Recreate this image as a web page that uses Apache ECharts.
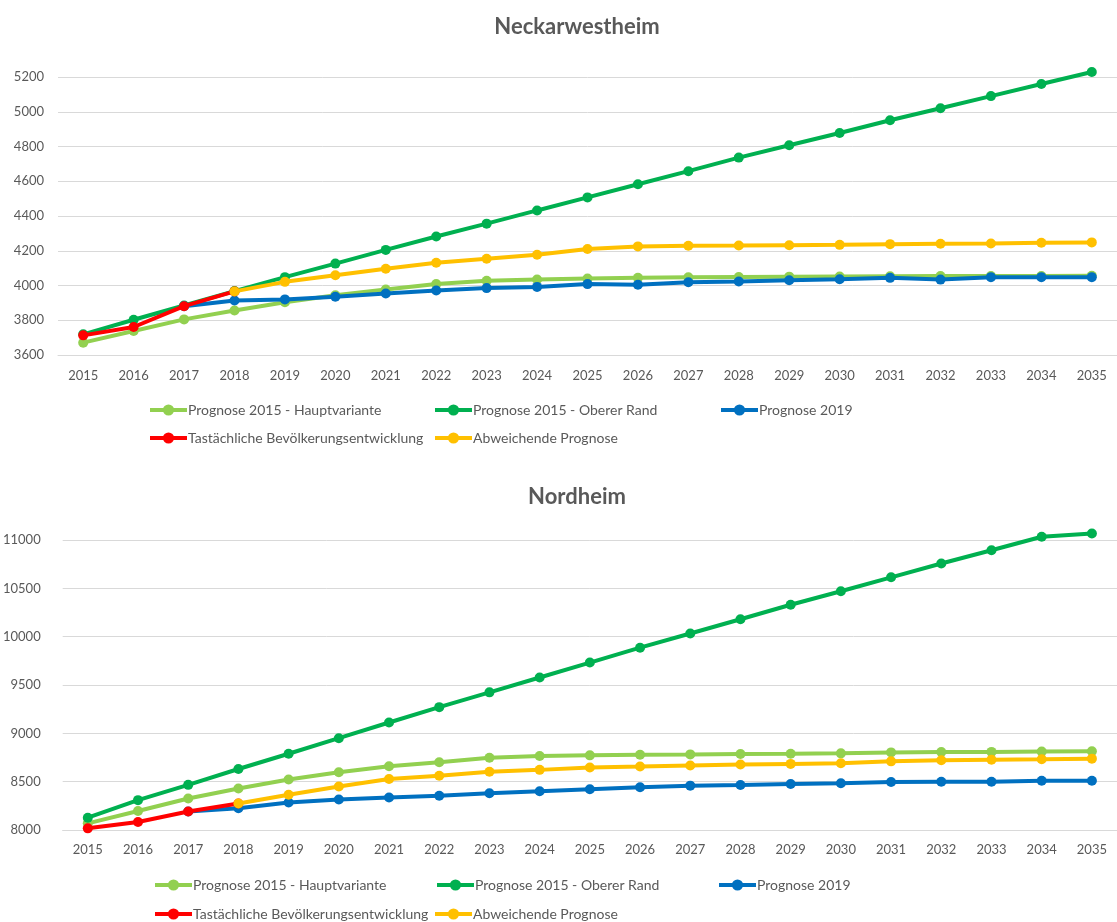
<!DOCTYPE html>
<html>
<head>
<meta charset="utf-8">
<script src="https://cdn.jsdelivr.net/npm/echarts@6/dist/echarts.min.js"></script>
<style>
html,body{margin:0;padding:0;background:#fff;}
#chart{width:1117px;height:922px;}
</style>
</head>
<body>
<div id="chart"></div>
<script>
var years = ['2015','2016','2017','2018','2019','2020','2021','2022','2023','2024','2025','2026','2027','2028','2029','2030','2031','2032','2033','2034','2035'];
var seriesNames = ['Prognose 2015 - Hauptvariante','Prognose 2015 - Oberer Rand','Prognose 2019','Tastächliche Bevölkerungsentwicklung','Abweichende Prognose'];
var seriesColors = ['#92D050','#00B050','#0070C0','#FF0000','#FFC000'];

// Neckarwestheim
var nwHaupt  = [3671,3738,3805,3856,3904,3944,3977,4008,4027,4035,4040,4044,4047,4049,4051,4052,4053,4054,4055,4055,4056];
var nwOberer = [3719,3803,3885,3968,4048,4126,4205,4282,4356,4432,4507,4583,4658,4736,4807,4878,4951,5020,5090,5160,5229];
var nw2019   = [null,null,3881,3914,3920,3935,3954,3971,3985,3992,4008,4004,4019,4023,4030,4036,4044,4034,4048,4048,4048];
var nwReal   = [3713,3761,3881,3966,null,null,null,null,null,null,null,null,null,null,null,null,null,null,null,null,null];
var nwAbw    = [null,null,null,3966,4021,4059,4096,4131,4154,4177,4210,4225,4229,4230,4232,4234,4238,4240,4242,4246,4248];

// Nordheim
var ndHaupt  = [8069,8196,8326,8429,8522,8597,8659,8701,8748,8765,8772,8779,8782,8786,8789,8793,8803,8806,8808,8811,8814];
var ndOberer = [8127,8309,8467,8631,8789,8950,9112,9271,9424,9578,9732,9886,10033,10180,10330,10470,10614,10757,10894,11034,11068];
var nd2019   = [null,null,8192,8226,8285,8316,8336,8354,8381,8401,8422,8442,8459,8466,8476,8483,8497,8500,8500,8510,8510];
var ndReal   = [8017,8082,8192,8275,null,null,null,null,null,null,null,null,null,null,null,null,null,null,null,null,null];
var ndAbw    = [null,null,null,8275,8364,8450,8528,8561,8602,8622,8646,8656,8667,8677,8684,8690,8710,8722,8727,8732,8738];

var titles = ['Neckarwestheim','Nordheim'];
var nwTicks = {min:3600, max:5200, interval:200};
var ndTicks = {min:8000, max:11000, interval:500};

var FONT = 'Lato';
var GREY = '#595959';

function mkSeries(idx, arrs){
  return arrs.map(function(d,i){
    return {
      name: seriesNames[i], type:'line', xAxisIndex: idx, yAxisIndex: idx,
      data: d, symbol:'circle', symbolSize:10, showSymbol:true,
      clip:false, connectNulls:false,
      color: seriesColors[i],
      itemStyle:{color: seriesColors[i]},
      lineStyle:{width:4, color: seriesColors[i]},
      z: 2 + i
    };
  });
}

function mkLegends(rowY1, rowY2, xs1, xs2){
  var pos = [[xs1[0],rowY1],[xs1[1],rowY1],[xs1[2],rowY1],[xs2[0],rowY2],[xs2[1],rowY2]];
  return pos.map(function(p,i){
    return {
      data:[seriesNames[i]], left:p[0], top:p[1]-7, padding:0,
      itemWidth:37, itemHeight:14, selectedMode:false,
      lineStyle:{width:4},
      textStyle:{fontFamily:FONT, fontSize:14, color:GREY, padding:[0,0,0,-4]}
    };
  });
}

function yAx(idx, t, margin){
  return {
    type:'value', gridIndex: idx, min:t.min, max:t.max, interval:t.interval,
    axisLine:{show:false}, axisTick:{show:false},
    axisLabel:{fontFamily:FONT, fontSize:13, color:GREY, margin:margin, formatter:function(v){return String(v);}},
    splitLine:{lineStyle:{color:'#d9d9d9', width:1}}
  };
}
function xAx(idx, margin){
  return {
    type:'category', gridIndex: idx, data: years, boundaryGap:true,
    axisLine:{lineStyle:{color:'#d9d9d9'}}, axisTick:{show:false},
    axisLabel:{fontFamily:FONT, fontSize:13, color:GREY, margin:margin, interval:0}
  };
}

var chart = echarts.init(document.getElementById('chart'), null, {renderer:'canvas'});
var option = {
  animation:false,
  backgroundColor:'#fff',
  title:[
    {text:titles[0], left:572, top:11, textAlign:'center', textStyle:{fontFamily:FONT, fontSize:22, fontWeight:'bold', color:GREY}},
    {text:titles[1], left:572, top:481, textAlign:'center', textStyle:{fontFamily:FONT, fontSize:22, fontWeight:'bold', color:GREY}}
  ],
  grid:[
    {left:58, top:77, width:1066, height:278},
    {left:62.7, top:540, width:1061.6, height:290}
  ],
  xAxis:[xAx(0,14), xAx(1,13)],
  yAxis:[yAx(0,nwTicks,14), yAx(1,ndTicks,22)],
  legend: mkLegends(410, 438, [148,433,719], [148,433]).concat(mkLegends(885, 914, [153,435,717], [153,433])),
  series: mkSeries(0,[nwHaupt,nwOberer,nw2019,nwReal,nwAbw]).concat(mkSeries(1,[ndHaupt,ndOberer,nd2019,ndReal,ndAbw]))
};
chart.setOption(option);
</script>
</body>
</html>
